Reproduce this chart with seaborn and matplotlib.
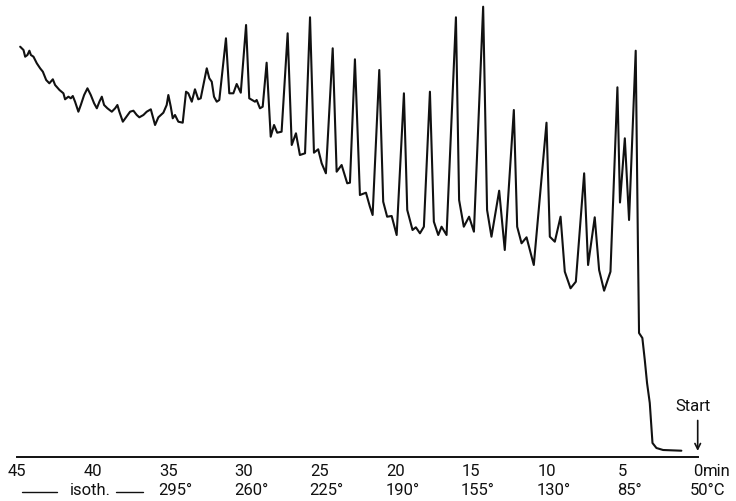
import matplotlib
matplotlib.use('Agg')
import matplotlib.pyplot as plt
import seaborn as sns
import pandas as pd

# retention time (min) and detector signal (arbitrary units)
time_min = [44.81, 44.59, 44.48, 44.33, 44.20, 44.10, 43.93, 43.71, 43.49, 43.31,
            43.09, 42.88, 42.65, 42.50, 42.21, 41.95, 41.84, 41.62, 41.46, 41.33,
            41.18, 40.96, 40.80, 40.58, 40.36, 40.14, 39.92, 39.74, 39.57, 39.41,
            39.26, 39.04, 38.75, 38.53, 38.38, 38.25, 38.02, 37.81, 37.54, 37.32,
            37.10, 36.93, 36.66, 36.44, 36.17, 36.04, 35.89, 35.67, 35.34, 35.12,
            35.01, 34.85, 34.72, 34.57, 34.35, 34.06, 33.84, 33.69, 33.46, 33.25,
            33.03, 32.87, 32.47, 32.30, 32.14, 31.99, 31.81, 31.64, 31.20, 30.98,
            30.71, 30.49, 30.22, 29.87, 29.66, 29.28, 29.17, 28.95, 28.77, 28.51,
            28.24, 28.02, 27.81, 27.52, 27.12, 26.85, 26.57, 26.31, 25.97, 25.64,
            25.38, 25.10, 24.87, 24.59, 24.14, 23.88, 23.55, 23.18, 23.00, 22.67,
            22.34, 21.94, 21.68, 21.50, 21.06, 20.80, 20.54, 20.24, 19.91, 19.43,
            19.21, 18.86, 18.64, 18.37, 18.11, 17.71, 17.45, 17.16, 16.94, 16.61,
            15.99, 15.78, 15.47, 15.12, 14.80, 14.19, 13.93, 13.64, 13.13, 12.76,
            12.16, 11.94, 11.65, 11.32, 10.84, 10.00, 9.78, 9.45, 9.07, 8.79,
            8.41, 8.06, 7.51, 7.25, 6.81, 6.52, 6.19, 5.77, 5.31, 5.14,
            4.82, 4.54, 4.10, 3.95, 3.88, 3.66, 3.50, 3.35, 3.17, 2.99,
            2.73, 2.29, 1.08]
signal = [410.0, 406.7, 400.0, 401.7, 406.0, 401.7, 400.0, 393.4, 388.4, 385.0,
          376.7, 373.4, 377.4, 371.7, 366.7, 363.4, 357.4, 360.0, 358.4, 360.7,
          355.0, 345.0, 351.7, 361.7, 368.4, 361.7, 353.4, 348.4, 355.0, 360.0,
          351.7, 348.4, 345.0, 348.4, 351.7, 345.0, 335.0, 339.4, 345.0, 346.0,
          341.7, 339.4, 341.7, 345.0, 347.4, 340.0, 331.7, 339.4, 344.0, 351.7,
          361.7, 350.0, 338.4, 341.7, 335.0, 334.0, 365.0, 363.4, 355.0, 367.4,
          357.4, 358.4, 388.4, 378.4, 375.0, 360.0, 355.0, 356.7, 418.4, 363.4,
          363.4, 372.7, 364.0, 431.7, 358.4, 355.0, 356.7, 348.4, 350.0, 394.0,
          320.0, 331.7, 324.0, 325.0, 423.4, 311.7, 323.4, 301.7, 303.4, 439.4,
          304.0, 307.4, 293.4, 283.4, 408.4, 285.0, 291.7, 273.4, 274.0, 397.4,
          261.7, 264.0, 250.0, 241.7, 386.7, 255.0, 240.0, 240.7, 221.7, 363.4,
          246.7, 226.7, 229.4, 223.4, 230.0, 365.0, 235.0, 221.7, 230.0, 221.7,
          439.4, 256.7, 230.0, 240.0, 225.0, 450.0, 246.7, 220.0, 266.0, 206.7,
          346.7, 230.0, 213.4, 219.4, 191.7, 334.0, 220.0, 215.0, 240.0, 185.0,
          168.4, 175.0, 283.4, 191.7, 239.4, 186.7, 166.0, 185.0, 369.4, 254.2,
          318.4, 236.7, 406.0, 206.7, 123.7, 118.7, 96.7, 73.7, 53.7, 13.7,
          8.7, 6.7, 6.0]

tick_minutes = [45, 40, 35, 30, 25, 20, 15, 10, 5, 0]
temp_minutes = [35, 30, 25, 20, 15, 10, 5, 0]
temp_labels = ['295°', '260°', '225°', '190°', '155°', '130°', '85°', '50°C']

df = pd.DataFrame({'time': time_min, 'signal': signal})

sns.set_style('white')
plt.rcParams['font.family'] = ['Roboto', 'DejaVu Sans']
ink = '#111111'
fs = 12

fig = plt.figure(figsize=(7.36, 5.01), dpi=100)
ax = fig.add_axes([17.3 / 736, 44.3 / 501, 680.4 / 736, 456.7 / 501])

sns.lineplot(data=df, x='time', y='signal', sort=False, estimator=None,
             color=ink, linewidth=1.5, ax=ax)

ax.set_xlim(45, 0)
ax.set_ylim(0, 456.7)
for side in ['left', 'right', 'top']:
    ax.spines[side].set_visible(False)
ax.spines['bottom'].set_linewidth(1.4)
ax.spines['bottom'].set_color(ink)
ax.set_yticks([])
ax.set_xlabel('')
ax.set_ylabel('')

ax.set_xticks(tick_minutes)
ax.set_xticklabels([str(m) for m in tick_minutes], fontsize=fs)
ax.tick_params(axis='x', direction='out', length=3.5, width=1, pad=2,
               color=ink, labelcolor=ink)
ax.annotate('min', xy=(0, 0), xycoords=('data', 'axes fraction'),
            xytext=(4, -11), textcoords='offset points',
            ha='left', va='center', fontsize=fs, color=ink)

# temperature programme row
for m, lab in zip(temp_minutes, temp_labels):
    dx = 7 if lab.endswith('C') else 5
    ax.annotate(lab, xy=(m, 0), xycoords=('data', 'axes fraction'),
                xytext=(dx, -24.5), textcoords='offset points',
                ha='center', va='center', fontsize=fs, color=ink)
ax.annotate('isoth.', xy=(40.2, 0), xycoords=('data', 'axes fraction'),
            xytext=(0, -24.5), textcoords='offset points',
            ha='center', va='center', fontsize=fs, color=ink)
xt = ax.get_xaxis_transform()
ax.plot([44.7, 42.4], [-0.078, -0.078], transform=xt, clip_on=False,
        color=ink, linewidth=1.0)
ax.plot([38.5, 36.7], [-0.078, -0.078], transform=xt, clip_on=False,
        color=ink, linewidth=1.0)

# injection marker
ax.text(0.34, 50, 'Start', ha='center', va='center', fontsize=fs, color=ink)
ax.annotate('', xy=(0, 3), xytext=(0, 39),
            arrowprops=dict(arrowstyle='->', color=ink, lw=1.2,
                            mutation_scale=10))

fig.savefig('out.png', dpi=100)
